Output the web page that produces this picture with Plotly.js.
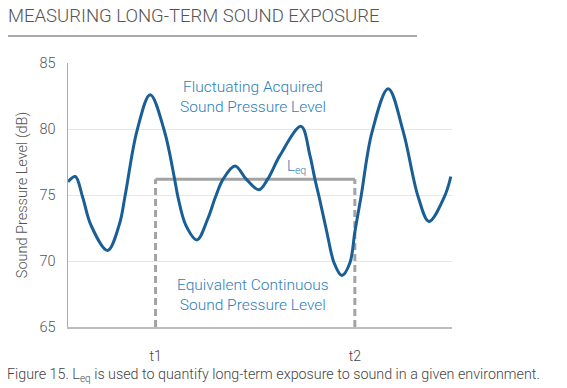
<!DOCTYPE html>
<html>
<head>
<meta charset="utf-8">
<script src="https://cdn.plot.ly/plotly-3.0.1.min.js"></script>
<style>html,body{margin:0;padding:0;background:#fff;}#chart{width:567px;height:388px;}</style>
</head>
<body>
<div id="chart"></div>
<script>
// Time (arbitrary units, 0..100) and sound pressure level (dB)
var timeVals = [0, 1.9, 3.8, 6.0, 10.3, 13.4, 14.9, 18.0, 21.4, 25.1, 27.7, 28.6, 30.7, 33.6, 36.4, 38.4, 40.4, 43.5, 46.4, 49.7, 52.0, 55.2, 60.7, 63.0, 64.3, 65.4, 67.4, 69.3, 71.3, 73.4, 74.7, 76.3, 79.2, 83.4, 87.3, 91.2, 94.0, 98.0, 99.7];
var splVals  = [76.0, 76.4, 74.85, 72.7, 70.8, 72.8, 75.0, 79.9, 82.6, 79.85, 76.3, 74.9, 72.7, 71.6, 73.2, 74.85, 76.2, 77.2, 76.2, 75.4, 76.2, 78.0, 80.2, 78.0, 76.2, 74.85, 72.2, 69.85, 68.9, 69.85, 72.2, 74.85, 79.8, 83.05, 79.8, 74.85, 73.0, 74.85, 76.4];
var t1 = 22.8, t2 = 74.7;
var leq = 76.2;
var yMin = 65, yMax = 85;
var tickLabels = ['t1', 't2'];

var font = 'Roboto, "Open Sans", sans-serif';
var textBlue = '#2f7dbb';

var traces = [
  { x: [t1, t1], y: [yMin, leq], mode: 'lines', line: {color: '#a3a3a3', width: 3, dash: '7px,4px'}, hoverinfo: 'skip' },
  { x: [t2, t2], y: [yMin, leq], mode: 'lines', line: {color: '#a3a3a3', width: 3, dash: '7px,4px'}, hoverinfo: 'skip' },
  { x: [t1, t2], y: [leq, leq], mode: 'lines', line: {color: '#a3a3a3', width: 3}, hoverinfo: 'skip' },
  { x: timeVals, y: splVals, mode: 'lines', line: {color: '#1a5e96', width: 3, shape: 'spline', smoothing: 1}, hoverinfo: 'skip' }
];

var layout = {
  width: 567, height: 388,
  margin: {l: 68, r: 115, t: 63, b: 61},
  paper_bgcolor: '#fff', plot_bgcolor: '#fff',
  showlegend: false,
  font: {family: font, color: '#555'},
  title: {text: 'MEASURING LONG-TERM SOUND EXPOSURE', x: 8/567, xanchor: 'left', xref: 'container',
          y: 1 - 16/388, yanchor: 'middle', yref: 'container',
          font: {family: font, size: 18.5, color: '#555', weight: 300}},
  xaxis: {range: [0, 100], showgrid: false, zeroline: false, showline: true, linecolor: '#bdbdbd', linewidth: 1.5,
          tickvals: [t1, t2], ticktext: tickLabels, ticks: '', ticklabelstandoff: 16,
          tickfont: {family: font, size: 14, color: '#444', weight: 300}, fixedrange: true},
  yaxis: {range: [yMin, yMax], dtick: 5, showgrid: true, gridcolor: '#e6e6e6', zeroline: false,
          showline: true, linecolor: '#aaaaaa', linewidth: 1.5, ticks: '', ticklabelstandoff: 8,
          tickfont: {family: font, size: 14.5, color: '#555', weight: 300},
          title: {text: 'Sound Pressure Level (dB)', standoff: 8, font: {family: font, size: 14.5, color: '#555', weight: 300}},
          fixedrange: true},
  shapes: [
    {type: 'line', xref: 'paper', yref: 'paper', x0: (8-68)/384, x1: (417-68)/384, y0: (327-36)/264, y1: (327-36)/264,
     line: {color: '#555', width: 1.2}}
  ],
  annotations: [
    {x: 48.2, y: 82.4, xref: 'x', yref: 'y', text: 'Fluctuating Acquired<br>Sound Pressure Level', showarrow: false,
     font: {family: font, size: 15.5, color: textBlue, weight: 300}, align: 'center'},
    {x: 48.3, y: 67.4, xref: 'x', yref: 'y', text: 'Equivalent Continuous<br>Sound Pressure Level', showarrow: false,
     font: {family: font, size: 15.5, color: textBlue, weight: 300}, align: 'center'},
    {x: 59.4, y: 77.1, xref: 'x', yref: 'y', text: 'L<sub>eq</sub>', showarrow: false,
     font: {family: font, size: 15, color: textBlue, weight: 300}},
    {x: (5-68)/384, y: (327-375)/264, xref: 'paper', yref: 'paper', xanchor: 'left', yanchor: 'middle',
     text: 'Figure 15. L<sub>eq</sub> is used to quantify long-term exposure to sound in a given environment.',
     showarrow: false, font: {family: font, size: 14.3, color: '#444', weight: 300}}
  ]
};

Plotly.newPlot('chart', traces, layout, {staticPlot: true, displayModeBar: false});
</script>
</body>
</html>
